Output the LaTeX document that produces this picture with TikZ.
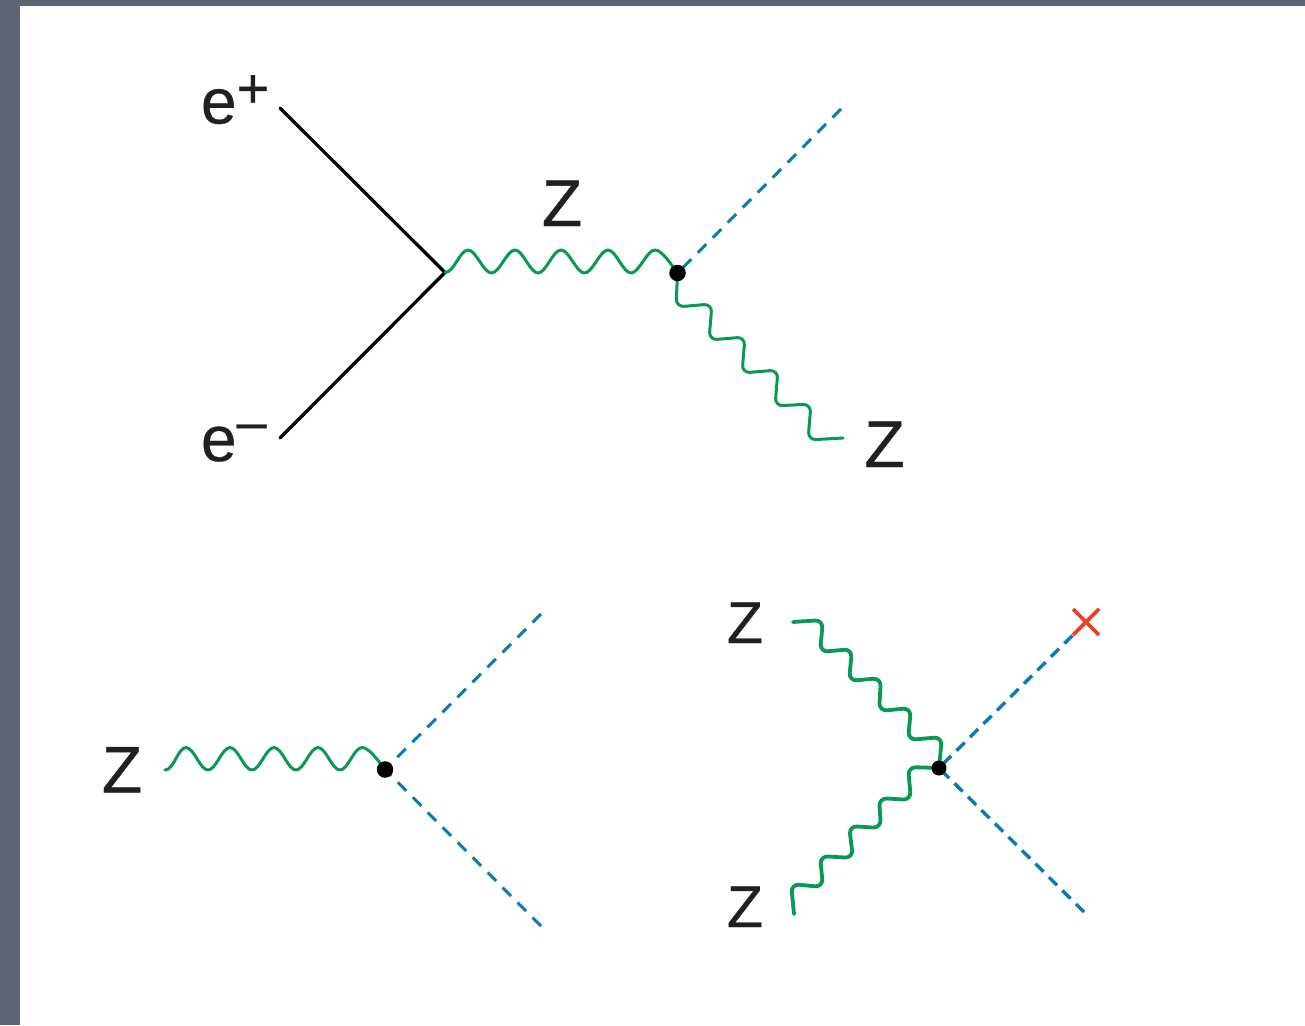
\documentclass[tikz,border=0pt]{standalone}
\usepackage{fontspec}
\usetikzlibrary{calc}
\setmainfont[FakeBold=0.5]{Liberation Sans}
\definecolor{slide}{HTML}{5E6474}
\definecolor{ink}{HTML}{231F20}
\definecolor{bosonc}{HTML}{089A55}
\definecolor{higgsc}{HTML}{0A7DB0}
\definecolor{crossc}{HTML}{EE4023}
\tikzset{
  lab/.style={inner sep=0pt,outer sep=0pt,anchor=base,text=ink},
  bigz/.style={lab,font=\fontsize{66}{66}\selectfont},
  smallz/.style={lab,font=\fontsize{59}{59}\selectfont},
  elec/.style={lab,anchor=base west,font=\fontsize{64}{64}\selectfont},
  fermion/.style={draw=black,line width=3.3pt,line cap=round,line join=miter},
  boson/.style={draw=bosonc,line width=3pt,line cap=round,line join=round},
  bosonthick/.style={boson,line width=3.8pt,rounded corners=8pt},
  bosonstep/.style={boson,rounded corners=8pt},
  higgs/.style={draw=higgsc,line width=3pt,dash pattern=on 12pt off 9.2pt},
  higgsthick/.style={higgs,line width=3.4pt,dash pattern=on 11.5pt off 7.5pt},
  vertex/.style={circle,fill=black,inner sep=0pt,minimum size=16.5pt},
  vertexs/.style={vertex,minimum size=15pt},
}
\begin{document}
\begin{tikzpicture}[x=1pt,y=-1pt]
\useasboundingbox (0,0) rectangle (1305,1025);
\fill[slide] (0,0) rectangle (1305,1025);
\fill[white] (20,6) rectangle (1305,1025);

% top diagram
\node[elec] (ep) at (201,123.5) {e\raisebox{16pt}{\fontsize{56}{56}\selectfont +}};
\node[elec] (em) at (201,461) {e\raisebox{21pt}{\fontsize{54}{54}\selectfont –}};
\coordinate (a1) at (280,108);
\coordinate (a2) at (280,438);
\coordinate (v1) at (445,272.5);
\coordinate (c1) at (677.5,273);
\coordinate (h1end) at (841,109);
\coordinate (z1end) at (843,438);
\draw[fermion] (a1) -- (v1) -- (a2);
\draw[higgs] (h1end) -- (c1);
\draw[boson] (v1) .. controls +(9,0) and +(-8,-0) .. (468,250)
  .. controls +(8,0) and +(-8,0) .. (491.5,273)
  .. controls +(8,0) and +(-8,0) .. (515,250)
  .. controls +(8,0) and +(-8,0) .. (538,273)
  .. controls +(8,0) and +(-8,0) .. (561,250)
  .. controls +(8,0) and +(-8,0) .. (584.5,273)
  .. controls +(8,0) and +(-8,0) .. (608,250)
  .. controls +(8,0) and +(-8,0) .. (631,273)
  .. controls +(8,0) and +(-8,0) .. (655,250)
  .. controls +(7,0) and +(-6,-8) .. (c1);
\draw[bosonstep] (c1) -- (676,307) -- (712,304) -- (709,340) -- (745,337)
  -- (742,373) -- (778,370) -- (775,406) -- (811,404) -- (808,440) -- (z1end);
\node[vertex] (h1) at (c1) {};
\node[bigz] (zt) at (562,226) {Z};
\node[bigz] (zr) at (884.5,467) {Z};

% lower left diagram
\coordinate (c2) at (385,769.5);
\coordinate (h2up) at (541,614);
\coordinate (h2down) at (541,926);
\coordinate (z2start) at (165,770);
\draw[higgs] (h2up) -- (c2);
\draw[higgs] (h2down) -- (c2);
\draw[boson] (z2start) .. controls +(9,0) and +(-8,0) .. (186,747.5)
  .. controls +(8,0) and +(-8,0) .. (208,770)
  .. controls +(8,0) and +(-8,0) .. (230,747.5)
  .. controls +(8,0) and +(-8,0) .. (252,770)
  .. controls +(8,0) and +(-8,0) .. (274,747.5)
  .. controls +(8,0) and +(-8,0) .. (296,770)
  .. controls +(8,0) and +(-8,0) .. (318,747.5)
  .. controls +(8,0) and +(-8,0) .. (340,770)
  .. controls +(8,0) and +(-8,0) .. (362,747.5)
  .. controls +(7,0) and +(-6,-8) .. (c2);
\node[vertex] (h2) at (c2) {};
\node[bigz] (zl) at (122,792.5) {Z};

% lower right diagram
\coordinate (c3) at (939,768);
\coordinate (x3) at (1086,622);
\coordinate (h3down) at (1084,912);
\coordinate (z3a) at (793,622);
\coordinate (z3b) at (794,914);
\draw[higgsthick] (x3) -- (c3);
\draw[higgsthick] (h3down) -- (c3);
\draw[bosonthick] (z3a) -- (823,620) -- (820,652) -- (852,649) -- (849,681)
  -- (881,678) -- (879,711) -- (911,708) -- (908,740) -- (942,737) -- (c3);
\draw[bosonthick] (z3b) -- (791,884) -- (823,887) -- (820,856) -- (853,858)
  -- (849,826) -- (881,828) -- (879,798) -- (911,800) -- (908,767) -- (c3);
\node[vertexs] (h3) at (c3) {};
\draw[crossc,line width=3.8pt] ($(x3)+(-13,-13)$) -- ($(x3)+(13,13)$);
\draw[crossc,line width=3.8pt] ($(x3)+(-13,13)$) -- ($(x3)+(13,-13)$);
\node[smallz] (z3u) at (745,643) {Z};
\node[smallz] (z3d) at (745,927) {Z};
\end{tikzpicture}
\end{document}
